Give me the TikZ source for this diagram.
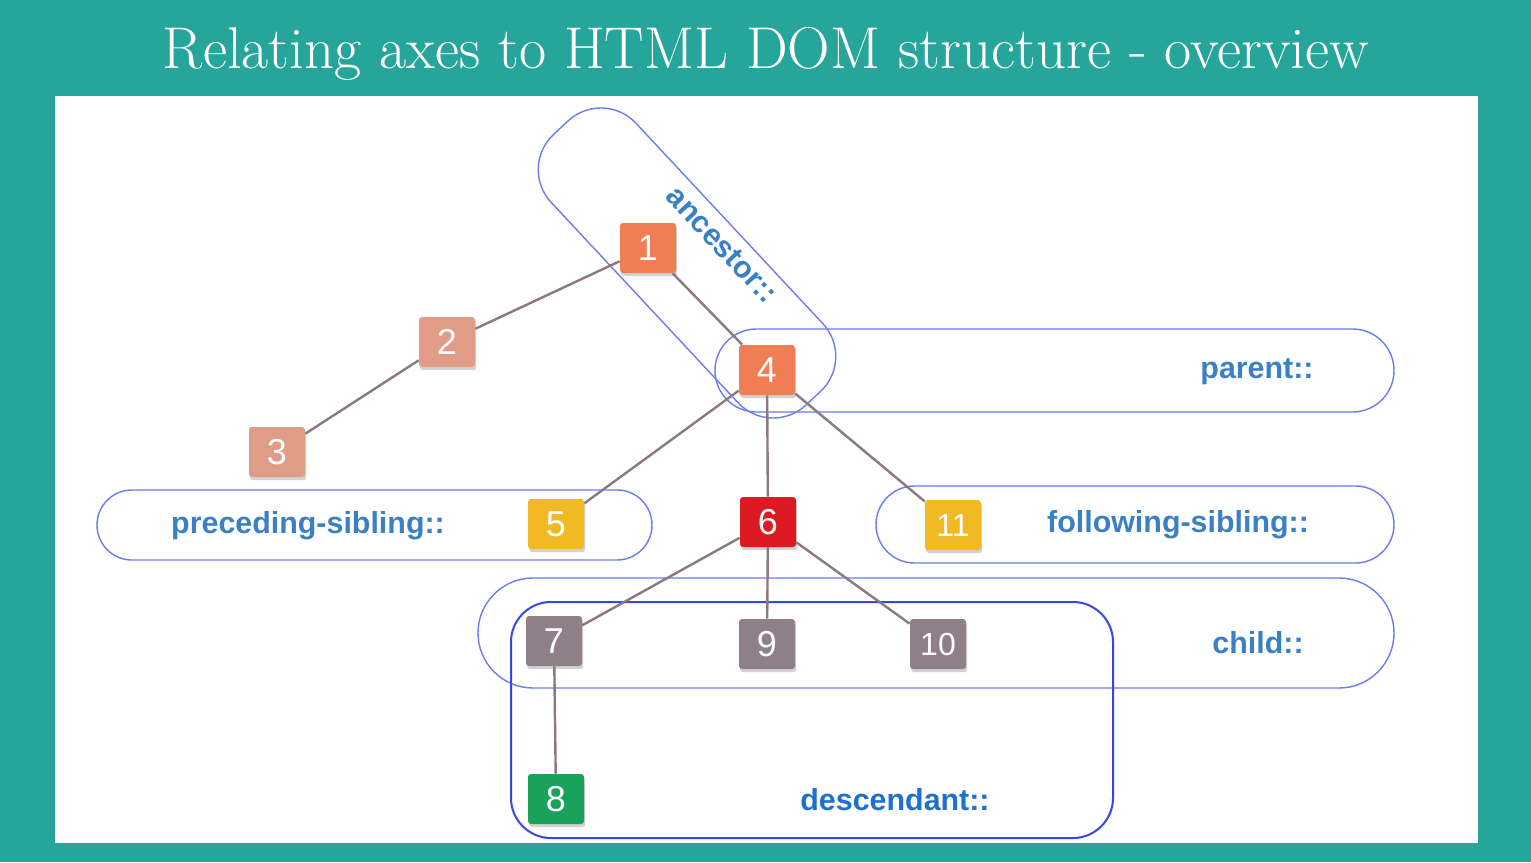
\documentclass[tikz,border=0pt]{standalone}
\usepackage{fontspec}
\setsansfont{Liberation Sans}
\newfontfamily\titlefont{Latin Modern Roman}
\usetikzlibrary{shadows}
\pgfdeclarelayer{canvas}
\pgfdeclarelayer{bg}
\pgfdeclarelayer{bgedge}
\pgfsetlayers{canvas,bg,bgedge,main}
\definecolor{teal}{HTML}{26A69A}
\definecolor{coral}{HTML}{EF7E54}
\definecolor{salmon}{HTML}{E19C87}
\definecolor{amber}{HTML}{F1B924}
\definecolor{redn}{HTML}{DC1A24}
\definecolor{mauve}{HTML}{8E7F89}
\definecolor{greenn}{HTML}{1AA15A}
\definecolor{edgec}{HTML}{8A7882}
\definecolor{outl}{HTML}{6D7BEE}
\definecolor{descl}{HTML}{3848DE}
\definecolor{labc}{HTML}{3A80C4}
\definecolor{labd}{HTML}{1F6ED2}
\tikzset{
  domnode/.style={draw=none, rounded corners=1.5pt, minimum width=28pt, minimum height=25pt,
    inner sep=0pt, text=white, font=\sffamily\fontsize{18}{18}\selectfont,
    drop shadow={opacity=0.35, shadow xshift=0.6pt, shadow yshift=-1.6pt}},
  domedge/.style={draw=edgec, line width=1.2pt},
  axisbox/.style={draw=outl, line width=0.7pt, inner sep=0pt, outer sep=0pt},
  axislabel/.style={text=labc, font=\sffamily\bfseries\fontsize{15.2}{16}\selectfont, inner sep=0pt}
}
\begin{document}
\begin{tikzpicture}[x=0.5pt,y=-0.5pt]
\useasboundingbox (0,0) rectangle (1531,862);
\begin{pgfonlayer}{canvas}
\fill[teal] (0,0) rectangle (1531,862);
\fill[white] (55,96) rectangle (1478,843);
\end{pgfonlayer}
\node[anchor=base, text=white, inner sep=0pt] (title) at (766,68)
  {\titlefont\fontsize{29.5}{31}\selectfont Relating axes to HTML DOM structure - overview};

% DOM nodes
\node[domnode, fill=coral]  (n1)  at (648,248) {1};
\node[domnode, fill=salmon] (n2)  at (447,342) {2};
\node[domnode, fill=salmon] (n3)  at (277,452) {3};
\node[domnode, fill=coral]  (n4)  at (767,370) {4};
\node[domnode, fill=amber]  (n5)  at (556,524) {5};
\node[domnode, fill=redn]   (n6)  at (768,522) {6};
\node[domnode, fill=amber]  (n11) at (953,525) {\fontsize{16}{16}\selectfont 11};
\node[domnode, fill=mauve]  (n7)  at (554,641) {7};
\node[domnode, fill=mauve]  (n9)  at (767,644) {9};
\node[domnode, fill=mauve]  (n10) at (938,644) {\fontsize{16}{16}\selectfont 10};
\node[domnode, fill=greenn] (n8)  at (556,799) {8};

% axis outlines
\begin{pgfonlayer}{bg}
\node[axisbox, minimum width=185pt, minimum height=58pt, rounded corners=24pt, rotate=-47] (anc) at (687,263) {};
\node[axisbox, minimum width=339.5pt, minimum height=41.5pt, rounded corners=20.75pt] (par) at (1054.5,370.5) {};
\node[axisbox, minimum width=277.5pt, minimum height=35pt, rounded corners=17.5pt] (pre) at (374.5,525) {};
\node[axisbox, minimum width=259pt, minimum height=38.5pt, rounded corners=19.25pt] (fol) at (1135,524.5) {};
\node[axisbox, minimum width=458pt, minimum height=55pt, rounded corners=27.5pt] (chi) at (936,633) {};
\node[axisbox, draw=descl, line width=1pt, minimum width=301pt, minimum height=118pt, rounded corners=20pt] (des) at (812,720) {};
\end{pgfonlayer}

% edges
\begin{pgfonlayer}{bgedge}
\draw[domedge] (n1) -- (n2);
\draw[domedge] (n2) -- (n3);
\draw[domedge] (n1) -- (n4);
\draw[domedge] (n4) -- (n5);
\draw[domedge] (n4) -- (n6);
\draw[domedge] (n4) -- (n11);
\draw[domedge] (n6) -- (n7);
\draw[domedge] (n6) -- (n9);
\draw[domedge] (n6) -- (n10);
\draw[domedge] (n7) -- (n8);
\end{pgfonlayer}

% axis labels
\node[axislabel, rotate=-47] (lanc) at (722,245) {ancestor::};
\node[axislabel] (lpar) at (1257,372) {parent::};
\node[axislabel] (lpre) at (308,526) {preceding-sibling::};
\node[axislabel] (lfol) at (1178,525) {following-sibling::};
\node[axislabel] (lchi) at (1258,643) {child::};
\node[axislabel, text=labd] (ldes) at (895,800) {descendant::};
\end{tikzpicture}
\end{document}
